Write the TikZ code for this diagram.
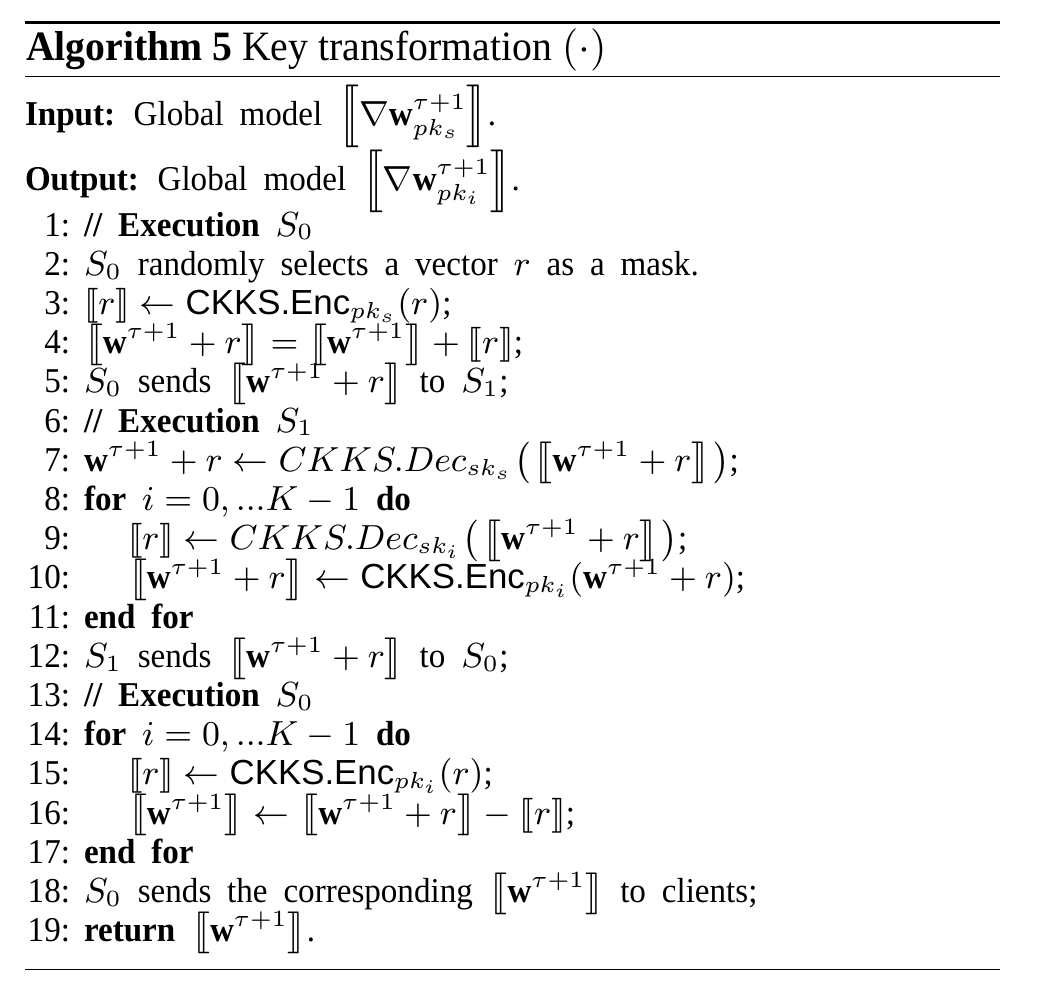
\documentclass[tikz,border=0pt]{standalone}
\usepackage{amsmath}
\usepackage{stmaryrd}
\usepackage[no-math]{fontspec}
\setmainfont{Liberation Serif}[FakeStretch=0.95]
\setsansfont{Liberation Sans}
\newcommand{\bw}{\mbox{\normalfont\bfseries w}}
\newcommand{\CKe}{\text{\sffamily CKKS.Enc}}
\newcommand{\LB}[1]{\left\llbracket #1\right\rrbracket}
\newcommand{\PA}[1]{\mathopen{}\mskip1mu\left(\mskip1.5mu #1\mskip1.5mu\right)}
\newcommand{\widesp}{\spaceskip=4.1pt\relax}
\newcommand{\normsp}{\spaceskip=0pt\relax}
\begin{document}
\begin{tikzpicture}[x=0.2584pt,y=-0.2584pt,
  every node/.style={inner sep=0pt,outer sep=0pt,font={\fontsize{9}{10}\selectfont\widesp}},
  num/.style={anchor=base east},
  txt/.style={anchor=base west},
  captxt/.style={anchor=base west,font={\fontsize{10.8}{12}\selectfont\normsp}}]
\useasboundingbox (0,0) rectangle (1038,990);
\draw[line width=0.8pt] (25,22.5) -- (1000,22.5);
\draw[line width=0.4pt] (25,76.5) -- (1000,76.5);
\draw[line width=0.4pt] (25,969.5) -- (1000,969.5);
\node[captxt] (cp) at (26,60) {\textbf{Algorithm 5} Key transformation $(\cdot)$};
\node[txt] (in) at (25,125) {\textbf{Input:} Global model $\LB{\nabla\bw^{\tau+1}_{pk_s}}$.};
\node[txt] (out) at (25,190) {\textbf{Output:} Global model $\LB{\nabla\bw^{\tau+1}_{pk_i}}$.};
\foreach \n in {1,...,19}{
  \node[num] (n\n) at (70,{236+(\n-1)*39.2}) {\n:};
}
\def\Y#1{{236+(#1-1)*39.2}}
\node[txt] (l1) at (84,\Y{1}) {\textbf{// Execution} $S_0$};
\node[txt] (l2) at (84,\Y{2}) {$S_0$ randomly selects a vector $r$ as a mask.};
\node[txt] (l3) at (84,\Y{3}) {$\llbracket r\rrbracket \leftarrow \CKe_{pk_s}(r)$;};
\node[txt] (l4) at (84,\Y{4}) {$\LB{\bw^{\tau+1}+r} = \LB{\bw^{\tau+1}} + \llbracket r\rrbracket$;};
\node[txt] (l5) at (84,\Y{5}) {$S_0$ sends $\LB{\bw^{\tau+1}+r}$ to $S_1$;};
\node[txt] (l6) at (84,\Y{6}) {\textbf{// Execution} $S_1$};
\node[txt] (l7) at (84,\Y{7}) {$\bw^{\tau+1}+r \leftarrow CKKS.Dec_{sk_s}\PA{\LB{\bw^{\tau+1}+r}}$;};
\node[txt] (l8) at (84,\Y{8}) {\textbf{for} $i=0,...K-1$ \textbf{do}};
\node[txt] (l9) at (128,\Y{9}) {$\llbracket r\rrbracket \leftarrow CKKS.Dec_{sk_i}\PA{\LB{\bw^{\tau+1}+r}}$;};
\node[txt] (l10) at (128,\Y{10}) {$\LB{\bw^{\tau+1}+r} \leftarrow \CKe_{pk_i}(\bw^{\tau+1}+r)$;};
\node[txt] (l11) at (84,\Y{11}) {\textbf{end for}};
\node[txt] (l12) at (84,\Y{12}) {$S_1$ sends $\LB{\bw^{\tau+1}+r}$ to $S_0$;};
\node[txt] (l13) at (84,\Y{13}) {\textbf{// Execution} $S_0$};
\node[txt] (l14) at (84,\Y{14}) {\textbf{for} $i=0,...K-1$ \textbf{do}};
\node[txt] (l15) at (128,\Y{15}) {$\llbracket r\rrbracket \leftarrow \CKe_{pk_i}(r)$;};
\node[txt] (l16) at (128,\Y{16}) {$\LB{\bw^{\tau+1}} \leftarrow \LB{\bw^{\tau+1}+r} - \llbracket r\rrbracket$;};
\node[txt] (l17) at (84,\Y{17}) {\textbf{end for}};
\node[txt] (l18) at (84,\Y{18}) {$S_0$ sends the corresponding $\LB{\bw^{\tau+1}}$ to clients;};
\node[txt] (l19) at (84,\Y{19}) {\textbf{return} $\LB{\bw^{\tau+1}}$.};
\end{tikzpicture}
\end{document}
